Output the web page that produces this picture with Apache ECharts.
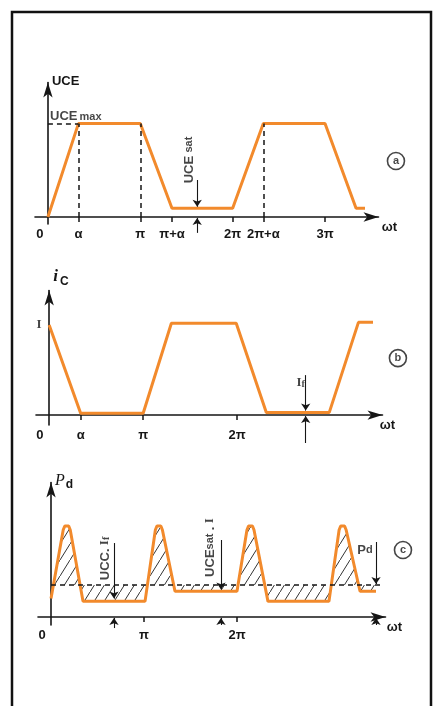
<!DOCTYPE html>
<html>
<head>
<meta charset="utf-8">
<script src="https://cdn.jsdelivr.net/npm/echarts@6.0.0/dist/echarts.min.js"></script>
<style>
  html, body { margin: 0; padding: 0; background: #fff; }
  #chart { width: 436px; height: 706px; }
</style>
</head>
<body>
<div id="chart"></div>
<script>
// ωt is measured in multiples of π, amplitudes in relative units.

// (a) collector-emitter voltage
const uceX = [0, 0.33, 1.0, 1.343, 2.0, 2.332, 3.0, 3.336, 3.433];
const uceY = [0, 1, 1, 0.093, 0.093, 1, 1, 0.093, 0.093];
const uceTicks = [0.33, 1, 1.343, 2, 2.332, 3];
const uceTickLabels = ['α', 'π', 'π+α', '2π', '2π+α', '3π'];
const uceMax = 1;
const uceSat = 0.093;
const uceGuides = [0.33, 1, 2.332];          // dashed drops from UCEmax

// (b) collector current
const icX = [0, 0.335, 1.0, 1.30, 1.99, 2.31, 2.98, 3.29, 3.445];
const icY = [1, 0.02, 0.02, 1.02, 1.02, 0.03, 0.03, 1.03, 1.03];
const icTicks = [0.335, 1, 2];
const icTickLabels = ['α', 'π', '2π'];
const icPeak = 1;
const icLeak = 0.03;

// (c) dissipated power
const pdX = [0, 0.131, 0.148, 0.169, 0.19, 0.207, 0.344, 1.011, 1.122, 1.139, 1.16, 1.181, 1.198, 1.333,
             2.0, 2.107, 2.124, 2.145, 2.166, 2.183, 2.333, 2.989, 3.098, 3.115, 3.136, 3.157, 3.174, 3.323, 3.495];
const pdY = [0.2, 0.946, 0.99, 1, 0.99, 0.946, 0.17, 0.17, 0.946, 0.99, 1, 0.99, 0.946, 0.28,
             0.28, 0.946, 0.99, 1, 0.99, 0.946, 0.17, 0.17, 0.946, 0.99, 1, 0.99, 0.946, 0.28, 0.28];
const pdTicks = [1, 2];
const pdTickLabels = ['π', '2π'];
const pdAvg = 0.348;
const pdAvgEnd = 3.56;

const ORANGE = '#f28a2c';
const INK = '#161616';
const FONT = 'Liberation Sans';

// diagonal hatching tile for the shaded power area
const hatch = document.createElement('canvas');
hatch.width = 10; hatch.height = 16;
(function () {
  const g = hatch.getContext('2d');
  g.strokeStyle = '#333';
  g.lineWidth = 1;
  g.beginPath();
  g.moveTo(-1, 17.6); g.lineTo(11, -1.6);
  g.stroke();
})();

const zip = (xs, ys) => xs.map((x, k) => [x, ys[k]]);

function xAxisFor(gi, min, max, ticks, labels, zeroAt, nameGap) {
  return {
    type: 'value', gridIndex: gi, min: min, max: max,
    axisLine: { onZero: true, symbol: ['none', 'arrow'], symbolSize: [7, 15],
                lineStyle: { color: INK, width: 1.6 } },
    axisTick: { show: true, customValues: ticks, length: 5, lineStyle: { color: INK, width: 1.5 } },
    axisLabel: {
      show: true, customValues: [zeroAt].concat(ticks), margin: 4,
      color: INK, fontFamily: FONT, fontWeight: 'bold', fontSize: 13,
      formatter: function (v) {
        if (Math.abs(v - zeroAt) < 1e-6) return '0';
        for (let k = 0; k < ticks.length; k++) if (Math.abs(ticks[k] - v) < 1e-6) return labels[k];
        return '';
      }
    },
    splitLine: { show: false },
    name: 'ωt', nameLocation: 'end', nameGap: nameGap, nameMoveOverlap: false,
    nameTextStyle: { color: INK, fontFamily: FONT, fontWeight: 'bold', fontSize: 13,
                     align: 'center', verticalAlign: 'top', padding: [4, 0, 0, 0] }
  };
}

function yAxisFor(gi, min, max, name, nameGap, rich) {
  return {
    type: 'value', gridIndex: gi, min: min, max: max,
    axisLine: { onZero: true, symbol: ['none', 'arrow'], symbolSize: [7, 15],
                lineStyle: { color: INK, width: 1.6 } },
    axisTick: { show: false },
    axisLabel: { show: false },
    splitLine: { show: false },
    name: name, nameLocation: 'end', nameGap: nameGap, nameMoveOverlap: false,
    nameTextStyle: { color: INK, align: 'left', verticalAlign: 'middle', padding: [0, 0, 0, 4], rich: rich }
  };
}

const dashed = { color: INK, width: 1.5, type: [5, 4] };

function markLineOf(items) {
  return { silent: true, animation: false, symbol: ['none', 'none'], label: { show: false },
           emphasis: { disabled: true }, data: items };
}

// vertical dimension lines: each one points at a level from above and at the axis from below
function dimensionSeries(gi, marks) {
  const segs = [];
  marks.forEach(m => {
    segs.push({ coords: [[m.x, m.top], [m.x, m.downEnd]] });
    segs.push({ coords: [[m.x, m.bottom], [m.x, m.upEnd]] });
  });
  return {
    type: 'lines', coordinateSystem: 'cartesian2d', xAxisIndex: gi, yAxisIndex: gi,
    clip: false, silent: true, z: 5, animation: false,
    symbol: ['none', 'arrow'], symbolSize: [5, 7],
    lineStyle: { color: INK, width: 1.1, opacity: 1 },
    data: segs
  };
}

function textSeries(gi, items) {
  return {
    type: 'scatter', xAxisIndex: gi, yAxisIndex: gi, symbolSize: 0, clip: false, silent: true, z: 6,
    data: items.map(it => ({
      value: [it.x, it.y],
      label: Object.assign({ show: true, position: 'inside', color: INK, formatter: it.text,
                             fontFamily: FONT, fontWeight: 'bold', fontSize: 12 }, it.style || {})
    }))
  };
}

function badge(gi, x, y, letter) {
  return {
    type: 'scatter', xAxisIndex: gi, yAxisIndex: gi, clip: false, silent: true, z: 6,
    symbol: 'circle', symbolSize: 17,
    itemStyle: { color: '#fff', borderColor: INK, borderWidth: 1.6 },
    label: { show: true, position: 'inside', formatter: letter, color: INK,
             fontFamily: FONT, fontWeight: 'bold', fontSize: 11 },
    data: [[x, y]]
  };
}

const subRich = {
  b: { fontFamily: FONT, fontWeight: 'bold', fontSize: 13, color: INK },
  s: { fontFamily: FONT, fontWeight: 'bold', fontSize: 11, color: INK },
  m: { fontFamily: FONT, fontWeight: 'bold', fontSize: 11, color: INK, padding: [0, 0, 0, 2] },
  i: { fontFamily: 'Liberation Serif', fontWeight: 'bold', fontSize: 13, color: INK },
  f: { fontFamily: 'Liberation Serif', fontWeight: 'bold', fontSize: 10, color: INK, padding: [3, 0, 0, 0] }
};

const option = {
  animation: false,
  backgroundColor: '#fff',
  graphic: [{ type: 'rect', silent: true, z: -10,
              shape: { x: 12, y: 12, width: 419, height: 720 },
              style: { fill: 'none', stroke: '#111', lineWidth: 2.5 } }],
  grid: [
    { left: 35, width: 343.5, top: 82.5, height: 141.5, outerBoundsMode: 'none', containLabel: false },
    { left: 36, width: 346.5, top: 290.5, height: 134.5, outerBoundsMode: 'none', containLabel: false },
    { left: 38, width: 347.5, top: 482.5, height: 142.5, outerBoundsMode: 'none', containLabel: false }
  ],
  xAxis: [
    xAxisFor(0, -0.14, 3.579, uceTicks, uceTickLabels, -0.086, 11),
    xAxisFor(1, -0.14, 3.546, icTicks, icTickLabels, -0.098, 5),
    xAxisFor(2, -0.14, 3.597, pdTicks, pdTickLabels, -0.097, 9)
  ],
  yAxis: [
    yAxisFor(0, -0.075, 1.44, '{b|UCE}', 1.5, subRich),
    yAxisFor(1, -0.11, 1.384, '{p|i}{q|C}', 13.5, {
      p: { fontFamily: 'Liberation Serif', fontStyle: 'italic', fontWeight: 'bold', fontSize: 17, color: INK },
      q: { fontFamily: FONT, fontWeight: 'bold', fontSize: 12, color: INK, padding: [9, 0, 0, 2] }
    }),
    yAxisFor(2, -0.087, 1.462, '{p|P}{q|d}', 1.5, {
      p: { fontFamily: 'Liberation Serif', fontStyle: 'italic', fontSize: 16, color: INK },
      q: { fontFamily: FONT, fontWeight: 'bold', fontSize: 12, color: INK, padding: [8, 0, 0, 1] }
    })
  ],
  series: [
    {
      type: 'line', xAxisIndex: 0, yAxisIndex: 0, data: zip(uceX, uceY), showSymbol: false, silent: true, z: 3,
      clip: false,
      lineStyle: { color: ORANGE, width: 3 },
      markLine: markLineOf(
        uceGuides.map(x => [{ coord: [x, 0], symbol: 'none', lineStyle: dashed }, { coord: [x, uceMax], symbol: 'none' }])
          .concat([[{ coord: [0, uceMax], symbol: 'none', lineStyle: dashed }, { coord: [0.33, uceMax], symbol: 'none' }]])
      )
    },
    dimensionSeries(0, [{ x: 1.616, top: 0.396, downEnd: uceSat + 0.017, bottom: -0.17, upEnd: -0.01 }]),
    textSeries(0, [
      { x: 1.528, y: 0.61, text: '{b|UCE} {s|sat}', style: { rotate: 90, rich: subRich } },
      { x: 0.023, y: uceMax + 0.075, text: '{b|UCE}{m|max}', style: { align: 'left', rich: subRich } }
    ]),
    badge(0, 3.768, 0.6, 'a'),

    {
      type: 'line', xAxisIndex: 1, yAxisIndex: 1, data: zip(icX, icY), showSymbol: false, silent: true, z: 3,
      clip: false,
      lineStyle: { color: ORANGE, width: 3 }
    },
    dimensionSeries(1, [{ x: 2.729, top: 0.444, downEnd: icLeak + 0.02, bottom: -0.31, upEnd: -0.01 }]),
    textSeries(1, [
      { x: 2.676, y: 0.356, text: '{i|I}{f|f}', style: { rich: subRich } },
      { x: -0.109, y: icPeak, text: 'I', style: { fontFamily: 'Liberation Serif', fontSize: 13 } }
    ]),
    badge(1, 3.71, 0.633, 'b'),

    {
      type: 'line', xAxisIndex: 2, yAxisIndex: 2, data: zip(pdX, pdY), showSymbol: false, silent: true, z: 3,
      clip: false,
      lineStyle: { color: ORANGE, width: 3 },
      areaStyle: { origin: pdAvg, color: { image: hatch, repeat: 'repeat' }, opacity: 1 },
      markLine: markLineOf(
        [[{ coord: [0, pdAvg], symbol: 'none', lineStyle: dashed }, { coord: [pdAvgEnd, pdAvg], symbol: 'none' }]]
      )
    },
    dimensionSeries(2, [
      { x: 0.677, top: 0.804, downEnd: 0.2, bottom: -0.12, upEnd: -0.01 },
      { x: 1.828, top: 0.837, downEnd: 0.3, bottom: -0.087, upEnd: -0.01 },
      { x: 3.495, top: 0.815, downEnd: pdAvg + 0.01, bottom: -0.087, upEnd: -0.01 }
    ]),
    textSeries(2, [
      { x: 0.58, y: 0.636, text: '{b|UCC.} {i|I}{f|f}', style: { rotate: 90, rich: subRich } },
      { x: 1.71, y: 0.755, text: '{b|UCE}{s|sat} {b|.} {i|I}', style: { rotate: 90, rich: subRich } },
      { x: 3.376, y: 0.728, text: '{b|P}{s|d}', style: { rich: subRich } }
    ]),
    badge(2, 3.785, 0.728, 'c')
  ]
};

const chart = echarts.init(document.getElementById('chart'), null, { renderer: 'canvas' });
chart.setOption(option);
</script>
</body>
</html>
